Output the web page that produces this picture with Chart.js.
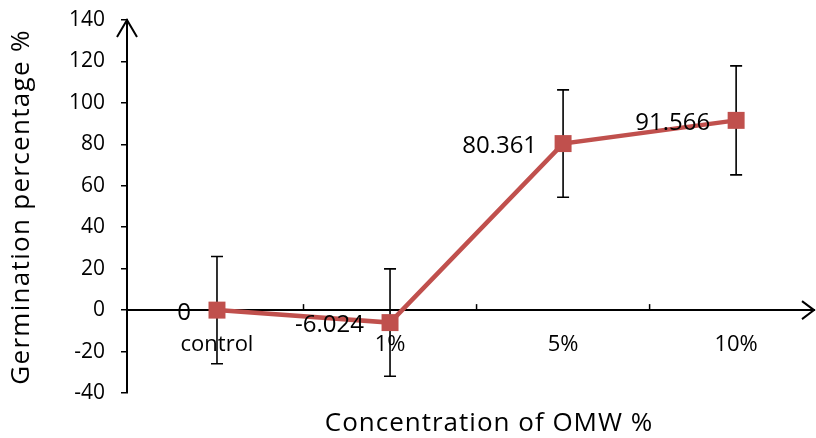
<!DOCTYPE html>
<html>
<head>
<meta charset="utf-8">
<script src="https://cdn.jsdelivr.net/npm/chart.js@4.4.1/dist/chart.umd.min.js"></script>
<style>
  html, body { margin: 0; padding: 0; background: #fff; overflow: hidden; }
  canvas { display: block; }
</style>
</head>
<body>
<canvas id="myChart" width="816" height="438"></canvas>
<script>
const categories = ['control', '1%', '5%', '10%'];
const germination = [0, -6.024, 80.361, 91.566];
const errors = [25.9, 25.9, 25.9, 26.3];
const dataLabels = ['0', '-6.024', '80.361', '91.566'];
const yTicks = [-40, -20, 0, 20, 40, 60, 80, 100, 120, 140];
const xTitle = 'Concentration of OMW %';
const yTitle = 'Germination percentage %';

const FONT = "'Open Sans', sans-serif";
const red = '#C0504D';

// error bars, tick marks between categories, axis arrows, value labels, titles
const extras = {
    id: 'extras',
    beforeDatasetsDraw(chart) {
        const { ctx, scales: { x, y } } = chart;
        ctx.save();
        ctx.strokeStyle = '#000';
        ctx.lineWidth = 1.6;
        germination.forEach((v, i) => {
            const px = x.getPixelForValue(i);
            const top = y.getPixelForValue(v + errors[i]);
            const bot = y.getPixelForValue(v - errors[i]);
            ctx.beginPath();
            ctx.moveTo(px, top); ctx.lineTo(px, bot);
            ctx.moveTo(px - 6, top); ctx.lineTo(px + 6, top);
            ctx.moveTo(px - 6, bot); ctx.lineTo(px + 6, bot);
            ctx.stroke();
        });

        // tick marks between categories on the x axis
        const y0 = y.getPixelForValue(0);
        ctx.lineWidth = 1.5;
        [0.5, 1.5, 2.5].forEach(v => {
            const px = x.getPixelForValue(v);
            ctx.beginPath();
            ctx.moveTo(px, y0); ctx.lineTo(px, y0 - 6);
            ctx.stroke();
        });

        // arrows
        const area = chart.chartArea;
        ctx.lineWidth = 2;
        ctx.beginPath();
        ctx.moveTo(area.left - 10, area.top + 17);
        ctx.lineTo(area.left, area.top);
        ctx.lineTo(area.left + 10, area.top + 17);
        ctx.moveTo(area.right - 12, y0 - 9);
        ctx.lineTo(area.right, y0);
        ctx.lineTo(area.right - 12, y0 + 9);
        ctx.stroke();
        ctx.restore();
    },
    afterDatasetsDraw(chart) {
        const { ctx, scales: { x, y } } = chart;
        ctx.save();
        ctx.fillStyle = '#000';
        ctx.font = '24px ' + FONT;
        ctx.textAlign = 'right';
        ctx.textBaseline = 'middle';
        germination.forEach((v, i) => {
            ctx.fillText(dataLabels[i], x.getPixelForValue(i) - 26, y.getPixelForValue(v) + 3);
        });

        // axis titles
        ctx.textAlign = 'center';
        ctx.font = '26px ' + FONT;
        ctx.letterSpacing = '1px';
        ctx.fillText(xTitle, 489, 424);
        ctx.translate(22, 207);
        ctx.rotate(-Math.PI / 2);
        ctx.letterSpacing = '1.3px';
        ctx.fillText(yTitle, 0, 0);
        ctx.restore();
    }
};

new Chart(document.getElementById('myChart'), {
    type: 'line',
    data: {
        datasets: [{
            data: categories.map((c, i) => ({ x: i, y: germination[i] })),
            borderColor: red,
            backgroundColor: red,
            borderWidth: 4.5,
            pointStyle: 'rect',
            pointRadius: 12,
            pointHoverRadius: 12,
            pointBorderWidth: 0,
            tension: 0
        }]
    },
    options: {
        responsive: false,
        animation: false,
        events: [],
        layout: { autoPadding: false, padding: { top: 20, right: 2, left: 0, bottom: 45 } },
        plugins: {
            legend: { display: false },
            tooltip: { enabled: false }
        },
        scales: {
            x: {
                type: 'linear',
                position: { y: 0 },
                min: -0.52,
                max: 3.45,
                afterBuildTicks: (scale) => { scale.ticks = categories.map((c, i) => ({ value: i })); },
                afterFit: (scale) => { scale.paddingLeft = 0; scale.paddingRight = 0; scale.paddingTop = 0; scale.paddingBottom = 0; },
                grid: { display: false, drawTicks: false },
                border: { display: true, color: '#000', width: 2 },
                ticks: {
                    callback: (v) => categories[v],
                    color: '#000',
                    font: { family: FONT, size: 22 },
                    padding: 21,
                    maxRotation: 0,
                    autoSkip: false
                }
            },
            y: {
                min: -40,
                max: 140,
                afterBuildTicks: (scale) => { scale.ticks = yTicks.map(v => ({ value: v })); },
                afterFit: (scale) => { scale.width = 127; scale.paddingTop = 0; scale.paddingBottom = 0; },
                grid: { drawOnChartArea: false, drawTicks: true, tickLength: 6, color: '#000', lineWidth: 1.5 },
                border: { display: true, color: '#000', width: 2 },
                ticks: {
                    color: '#000',
                    font: { family: FONT, size: 21 },
                    padding: 16
                }
            }
        }
    },
    plugins: [extras]
});
</script>
</body>
</html>
